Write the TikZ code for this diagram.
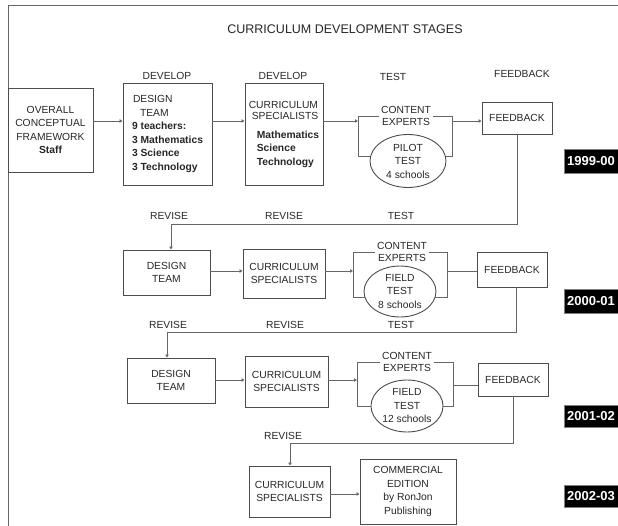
\documentclass[tikz,border=0pt]{standalone}
\usepackage{fontspec}
\setmainfont{Liberation Sans}
\usetikzlibrary{arrows.meta,shapes.geometric}
\begin{document}
\begin{tikzpicture}[x=1pt,y=-1pt,
  every node/.style={text=black!85, font=\fontsize{10.3}{13.5}\selectfont},
  box/.style={draw=black!70, line width=0.9pt, rectangle, inner sep=0pt, align=center},
  oval/.style={draw=black!70, line width=0.9pt, ellipse, inner sep=0pt, align=center},
  ln/.style={draw=black!60, line width=0.9pt},
  arr/.style={ln, -{Latex[length=3pt,width=4pt]}},
  lbl/.style={inner sep=1pt},
  ce/.style={inner sep=2pt, align=center, font=\fontsize{10.3}{12.5}\selectfont},
  yearbox/.style={fill=black, draw=black!50, text=white, font=\bfseries\fontsize{13}{15}\selectfont, minimum width=54, minimum height=24, inner sep=0pt},
]
\useasboundingbox (0,0) rectangle (618,526);
% frame
\draw[ln] (8,526) -- (8,5) -- (618,5);
\node (title) at (345,29) {\fontsize{12.5}{14}\selectfont CURRICULUM DEVELOPMENT STAGES};

% column labels
\node[lbl] (hd1) at (167,76) {DEVELOP};
\node[lbl] (hd2) at (283,76) {DEVELOP};
\node[lbl] (hd3) at (393,77) {TEST};
\node[lbl] (hd4) at (522,74) {FEEDBACK};

% row coordinates
\coordinate (r1) at (0,121);
\coordinate (r2) at (0,271);
\coordinate (r3) at (0,380);
\coordinate (r3b) at (0,385);
\coordinate (r4) at (0,494);

% ---------- Row 1 ----------
\node[box, minimum width=85, minimum height=84] (ocf) at (50.5,130)
  {OVERALL\\CONCEPTUAL\\FRAMEWORK\\\textbf{Staff}};
\node[box, minimum width=89, minimum height=102, align=left] (dt1) at (167.5,134)
  {\hspace*{1pt}DESIGN\\\hspace*{8pt}TEAM\\\textbf{9 teachers:}\\\textbf{3 Mathematics}\\\textbf{3 Science}\\\textbf{3 Technology}};
\node[box, minimum width=78, minimum height=102, align=left] (cs1) at (284,134)
  {CURRICULUM\\[-2pt]\hspace*{3pt}SPECIALISTS\\[5pt]\hspace*{8pt}\textbf{Mathematics}\\\hspace*{8pt}\textbf{Science}\\\hspace*{8pt}\textbf{Technology}};
\node[ce] (ce1) at (406,116) {CONTENT\\EXPERTS};
\node[oval, minimum width=76, minimum height=53] (pt1) at (408,161) {PILOT\\TEST\\4 schools};
\coordinate (b1l) at (358,116);
\coordinate (b1r) at (452,116);
\node[box, minimum width=70, minimum height=32] (fb1) at (517,118) {FEEDBACK};
\node[yearbox] (y1) at (591,161) {1999-00};

\draw[arr] (ocf.east |- r1) -- (dt1.west |- r1);
\draw[arr] (dt1.east |- r1) -- (cs1.west |- r1);
\draw[arr] (cs1.east |- r1) -- (b1l |- r1);
\draw[ln] (ce1.west) -- (b1l) |- (pt1.173);
\draw[ln] (ce1.east) -- (b1r) |- (pt1.7);
\draw[arr] (b1r |- r1) -- (fb1.west |- r1);

% loop 1
\coordinate (l1) at (171,224);
\node[lbl] (rv1a) at (169,216) {REVISE};
\node[lbl] (rv1b) at (284,216) {REVISE};
\node[lbl] (ts1) at (401,216) {TEST};

% ---------- Row 2 ----------
\node[box, minimum width=87, minimum height=45] (dt2) at (166.5,272.5) {DESIGN\\TEAM};
\node[box, minimum width=82, minimum height=49] (cs2) at (284,273.5) {CURRICULUM\\SPECIALISTS};
\node[ce] (ce2) at (402,252) {CONTENT\\EXPERTS};
\node[oval, minimum width=72, minimum height=51] (ft2) at (400,291.5) {FIELD\\TEST\\8 schools};
\coordinate (b2l) at (353,252);
\coordinate (b2r) at (447,252);
\node[box, minimum width=70, minimum height=35] (fb2) at (512,269.5) {FEEDBACK};
\node[yearbox] (y2) at (591,301) {2000-01};

\draw[arr] (fb1.south) |- (l1) -- (l1 |- dt2.north);
\draw[arr] (dt2.east |- r2) -- (cs2.west |- r2);
\draw[arr] (cs2.east |- r2) -- (b2l |- r2);
\draw[ln] (ce2.west) -- (b2l) |- (ft2.190);
\draw[ln] (ce2.east) -- (b2r) |- (ft2.-10);
\draw[ln] (b2r |- r2) -- (fb2.west |- r2);

% loop 2
\coordinate (l2) at (167,332);
\node[lbl] (rv2a) at (168,325) {REVISE};
\node[lbl] (rv2b) at (285,325) {REVISE};
\node[lbl] (ts2) at (401,325) {TEST};

% ---------- Row 3 ----------
\node[box, minimum width=88, minimum height=45] (dt3) at (171,380.5) {DESIGN\\TEAM};
\node[box, minimum width=83, minimum height=51] (cs3) at (286.5,381.5) {CURRICULUM\\SPECIALISTS};
\node[ce] (ce3) at (407,362) {CONTENT\\EXPERTS};
\node[oval, minimum width=72, minimum height=52] (ft3) at (407,406) {FIELD\\TEST\\12 schools};
\coordinate (b3l) at (357,362);
\coordinate (b3r) at (453,362);
\node[box, minimum width=70, minimum height=33] (fb3) at (513,379.5) {FEEDBACK};
\node[yearbox, minimum height=22] (y3) at (591,416) {2001-02};

\draw[arr] ([xshift=4pt]fb2.south) |- (l2) -- (l2 |- dt3.north);
\draw[arr] (dt3.east |- r3) -- (cs3.west |- r3);
\draw[arr] (cs3.east |- r3) -- (b3l |- r3);
\draw[ln] (ce3.west) -- (b3l) |- (ft3.west);
\draw[ln] (ce3.east) -- (b3r) |- (ft3.east);
\draw[ln] (b3r |- r3b) -- (fb3.west |- r3b);

% loop 3
\coordinate (l3) at (290,443);
\node[lbl] (rv3) at (283,436) {REVISE};

% ---------- Row 4 ----------
\node[box, minimum width=81, minimum height=51] (cs4) at (289.5,491.5) {CURRICULUM\\SPECIALISTS};
\node[box, minimum width=96, minimum height=65] (com) at (408,491.5) {COMMERCIAL\\EDITION\\by RonJon\\Publishing};
\node[yearbox, minimum height=22] (y4) at (591,496) {2002-03};

\draw[arr] (fb3.south) |- (l3) -- (l3 |- cs4.north);
\draw[arr] (cs4.east |- r4) -- (com.west |- r4);
\end{tikzpicture}
\end{document}
